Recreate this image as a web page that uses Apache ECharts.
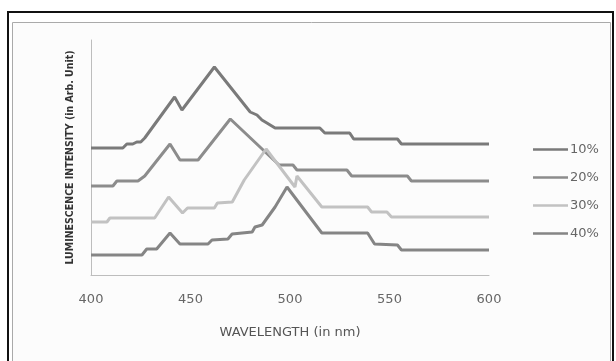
<!DOCTYPE html>
<html><head><meta charset="utf-8">
<script src="https://cdn.jsdelivr.net/npm/echarts@6/dist/echarts.min.js"></script>
<style>html,body{margin:0;padding:0;background:#fff}#c{width:616px;height:361px}</style>
</head><body><div id="c"></div>
<script>
const seriesNames = ['10%', '20%', '30%', '40%'];
const xTicks = [400, 450, 500, 550, 600];
const s10 = [[400,127],[416,127],[418,131],[421,131],[423,133],[425,133],[427,137],[442,178],[445.7,165],[462,208],[480,163],[483.4,160],[485.9,155],[488.4,152],[492.5,147],[515,147],[517.5,142],[530,142],[532,136],[554,136],[556,131],[600,131]];
const s20 = [[400,89],[411,89],[413,94],[423.6,94],[427,99],[439.7,131],[444.7,115],[453.8,115],[470,156],[494.5,110],[501.5,110],[503.5,105],[528.6,105],[531,99],[559,99],[561,94],[600,94]];
const s30 = [[400,53],[408,53],[409.5,57],[432,57],[439,78],[446,62],[448.5,67],[462,67],[463.5,72],[471,73],[477,95],[488,126],[502.5,88],[503.5,99],[516,68],[539,68],[541,63],[548.7,63],[551,58],[600,58]];
const s40 = [[400,20],[425.6,20],[428,26],[433,26],[439.7,42],[444.7,31],[458.8,31],[460.8,35],[468.8,36],[470.9,41],[481,43],[482.4,48],[486,50],[492.5,68],[498.5,88],[516,42],[539,42],[542.5,31],[554,30],[556,25],[600,25]];
const allData = [s10, s20, s30, s40];
const colors = ['#7a7a7a', '#8c8c8c', '#c2c2c2', '#858585'];

const chart = echarts.init(document.getElementById('c'), null, {renderer: 'canvas'});
chart.setOption({
  animation: false,
  backgroundColor: '#fff',
  graphic: [
    {type: 'rect', shape: {x: 8, y: 12, width: 605, height: 360}, style: {fill: 'none', stroke: '#111', lineWidth: 2}},
    {type: 'rect', shape: {x: 12.5, y: 22.5, width: 598, height: 345}, style: {fill: '#fcfcfc', stroke: '#aaa', lineWidth: 1}, z: -1}
  ],
  grid: {left: 91, right: 127, top: 40, bottom: 86},
  legend: {
    orient: 'vertical', left: 528, top: 138, itemGap: 15,
    itemWidth: 35, itemHeight: 2.5, icon: 'rect',
    data: seriesNames,
    textStyle: {color: '#666', fontSize: 13, fontFamily: 'DejaVu Sans', padding: [0, 0, 0, -3]}
  },
  xAxis: {
    type: 'value', min: 400, max: 600, interval: 50,
    axisLine: {show: true, lineStyle: {color: '#bdbdbd', width: 1}},
    axisTick: {show: false}, splitLine: {show: false},
    axisLabel: {color: '#666', fontSize: 13, margin: 18, fontFamily: 'DejaVu Sans',
      formatter: v => xTicks.includes(v) ? String(v) : ''},
    name: 'WAVELENGTH (in nm)', nameLocation: 'middle', nameGap: 51,
    nameTextStyle: {color: '#555', fontSize: 13, fontFamily: 'DejaVu Sans'}
  },
  yAxis: {
    type: 'value', min: 0, max: 235,
    axisLine: {show: true, lineStyle: {color: '#bdbdbd', width: 1}},
    axisTick: {show: false}, splitLine: {show: false}, axisLabel: {show: false},
    name: 'LUMINESCENCE INTENSITY (in Arb. Unit)', nameLocation: 'middle', nameGap: 15,
    nameTextStyle: {color: '#333', fontSize: 10.5, fontWeight: 'bold', fontFamily: 'DejaVu Sans Condensed'}
  },
  series: seriesNames.map((n, i) => ({
    name: n, type: 'line', data: allData[i], showSymbol: false, symbol: 'none',
    lineStyle: {color: colors[i], width: 3}, itemStyle: {color: colors[i]}
  }))
});
</script></body></html>
